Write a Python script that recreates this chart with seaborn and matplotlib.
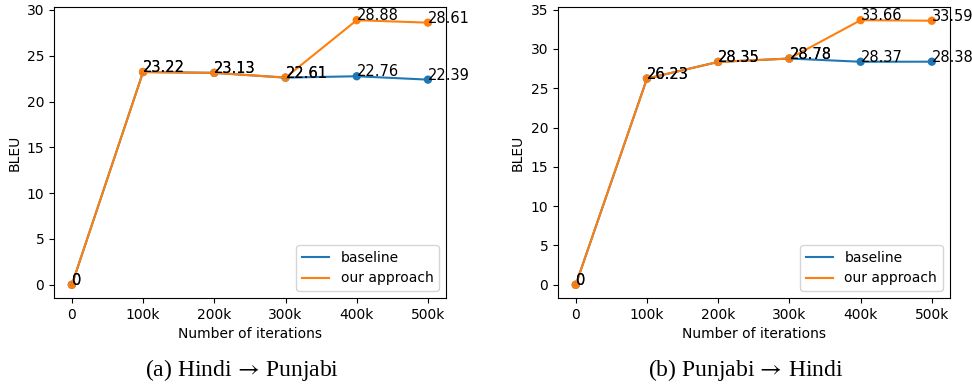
import matplotlib
matplotlib.use("Agg")
import matplotlib.pyplot as plt
import pandas as pd
import seaborn as sns


iterations = [0, 100000, 200000, 300000, 400000, 500000]
tick_labels = ["0", "100k", "200k", "300k", "400k", "500k"]
series_names = ["baseline", "our approach"]

hi_pa_baseline = [0, 23.22, 23.13, 22.61, 22.76, 22.39]
hi_pa_approach = [0, 23.22, 23.13, 22.61, 28.88, 28.61]
pa_hi_baseline = [0, 26.23, 28.35, 28.78, 28.37, 28.38]
pa_hi_approach = [0, 26.23, 28.35, 28.78, 33.66, 33.59]

captions = ["(a) Hindi$\\,\\rightarrow\\,$Punjabi", "(b) Punjabi$\\,\\rightarrow\\,$Hindi"]
colors = ["#1f77b4", "#ff7f0e"]

plt.rcParams["mathtext.fontset"] = "stix"


def long_frame(baseline, approach):
    rows = []
    for name, vals in zip(series_names, (baseline, approach)):
        for it, v in zip(iterations, vals):
            rows.append({"iter": it, "bleu": v, "series": name})
    return pd.DataFrame(rows)


def draw_panel(ax, baseline, approach):
    df = long_frame(baseline, approach)
    palette = dict(zip(series_names, colors))
    sns.lineplot(data=df, x="iter", y="bleu", hue="series", palette=palette, linewidth=1.5, ax=ax)
    sns.scatterplot(data=df, x="iter", y="bleu", hue="series", palette=palette, s=36,
                    linewidth=0, legend=False, ax=ax)
    # both series get labels, like the original (overlapping where equal)
    for it, v in zip(iterations, baseline):
        ax.text(it, v, f"{v:g}", fontsize=10.5)
    for it, v in zip(iterations, approach):
        ax.text(it, v, f"{v:g}", fontsize=10.5)
    ax.set_xticks(iterations, tick_labels)
    ax.set_xlabel("Number of iterations")
    ax.set_ylabel("BLEU")
    ax.legend(loc="lower right", title=None)


fig = plt.figure(figsize=(9.72, 3.86), dpi=100)
ax1 = fig.add_axes([0.0556, 0.228, 0.403, 0.754])
ax2 = fig.add_axes([0.574, 0.228, 0.403, 0.754])

draw_panel(ax1, hi_pa_baseline, hi_pa_approach)
draw_panel(ax2, pa_hi_baseline, pa_hi_approach)

fig.text(0.249, 0.042, captions[0], ha="center", va="center", fontsize=17, family="Liberation Serif")
fig.text(0.767, 0.042, captions[1], ha="center", va="center", fontsize=17, family="Liberation Serif")

fig.savefig("out.png", dpi=100)
